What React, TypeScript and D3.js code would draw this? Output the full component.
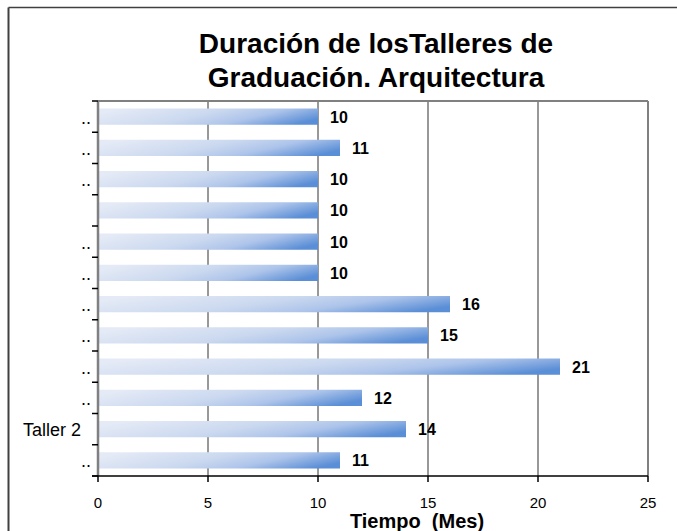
import React from "react";
import * as d3 from "d3";

const categories = ["..", "..", "..", "", "..", "..", "..", "..", "..", "..", "Taller 2", ".."];
const values = [10, 11, 10, 10, 10, 10, 16, 15, 21, 12, 14, 11];
const xTicks = [0, 5, 10, 15, 20, 25];
const titleLines = ["Duración de losTalleres de", "Graduación. Arquitectura"];
const xAxisTitle = "Tiempo  (Mes)";

const W = 677;
const H = 531;
const plot = { left: 98, right: 648, top: 101, bottom: 476 };
const FONT = "'Liberation Sans', Arial, sans-serif";

export default function App() {
  const x = d3.scaleLinear().domain([0, 25]).range([plot.left, plot.right]);
  const y = d3
    .scaleBand<number>()
    .domain(d3.range(categories.length))
    .range([plot.top, plot.bottom])
    .paddingInner(0.48)
    .paddingOuter(0.24);
  const step = (plot.bottom - plot.top) / categories.length;
  const boundaries = d3.range(categories.length + 1).map((i) => plot.top + i * step);

  return (
    <svg
      width={W}
      height={H}
      style={{ position: "absolute", left: 0, top: 0, background: "#fff" }}
      fontFamily={FONT}
    >
      <defs>
        <linearGradient id="barGrad" x1="0" y1="0.35" x2="1" y2="0.65">
          <stop offset="0" stopColor="#e4eaf6" />
          <stop offset="0.45" stopColor="#cad8ef" />
          <stop offset="0.7" stopColor="#adc4ea" />
          <stop offset="1" stopColor="#5a8ed6" />
        </linearGradient>
      </defs>
      <rect x={0} y={0} width={W} height={H} fill="#fff" />
      {/* outer frame */}
      <line x1={8.5} y1={7.5} x2={W} y2={7.5} stroke="#404040" strokeWidth={1.5} />
      <line x1={8.5} y1={7.5} x2={8.5} y2={H} stroke="#404040" strokeWidth={2} />

      {/* title */}
      {titleLines.map((t, i) => (
        <text
          key={i}
          x={376}
          y={53 + i * 34}
          textAnchor="middle"
          fontSize={28}
          fontWeight="bold"
          fill="#000"
        >
          {t}
        </text>
      ))}

      {/* gridlines */}
      {xTicks
        .filter((t) => t > 0 && t < 25)
        .map((t) => (
          <line
            key={t}
            x1={x(t)}
            x2={x(t)}
            y1={plot.top}
            y2={plot.bottom}
            stroke="#333"
            strokeWidth={1}
          />
        ))}

      {/* plot border top and right */}
      <line x1={plot.left} x2={plot.right} y1={plot.top} y2={plot.top} stroke="#808080" strokeWidth={2} />
      <line x1={plot.right} x2={plot.right} y1={plot.top} y2={plot.bottom} stroke="#808080" strokeWidth={2} />

      {/* bars */}
      {values.map((v, i) => (
        <rect
          key={i}
          x={x(0)}
          y={y(i)!}
          width={x(v) - x(0)}
          height={y.bandwidth()}
          fill="url(#barGrad)"
        />
      ))}

      {/* value labels */}
      {values.map((v, i) => (
        <text
          key={i}
          x={x(v) + 12}
          y={y(i)! + y.bandwidth() / 2 + 6}
          fontSize={16}
          fontWeight="bold"
          fill="#000"
        >
          {v}
        </text>
      ))}

      {/* left axis */}
      <line x1={plot.left} x2={plot.left} y1={plot.top} y2={plot.bottom} stroke="#808080" strokeWidth={2.5} />
      {boundaries.map((b, i) => (
        <line key={i} x1={plot.left - 6} x2={plot.left} y1={b} y2={b} stroke="#000" strokeWidth={1.5} />
      ))}
      {categories.map((c, i) => (
        <text
          key={i}
          x={c === ".." ? 91 : 81}
          y={y(i)! + y.bandwidth() / 2 + 7}
          textAnchor="end"
          fontSize={18}
          fill="#000"
        >
          {c}
        </text>
      ))}

      {/* bottom axis */}
      <line x1={plot.left - 6} x2={plot.right} y1={plot.bottom} y2={plot.bottom} stroke="#000" strokeWidth={1.5} />
      {xTicks.map((t) => (
        <g key={t}>
          <line x1={x(t)} x2={x(t)} y1={plot.bottom} y2={plot.bottom + 6} stroke="#000" strokeWidth={1.5} />
          <text x={x(t)} y={508} textAnchor="middle" fontSize={15} fill="#000">
            {t}
          </text>
        </g>
      ))}
      <text
        x={417}
        y={528}
        textAnchor="middle"
        fontSize={20}
        fontWeight="bold"
        fill="#000"
        style={{ whiteSpace: "pre" }}
      >
        {xAxisTitle}
      </text>
    </svg>
  );
}
